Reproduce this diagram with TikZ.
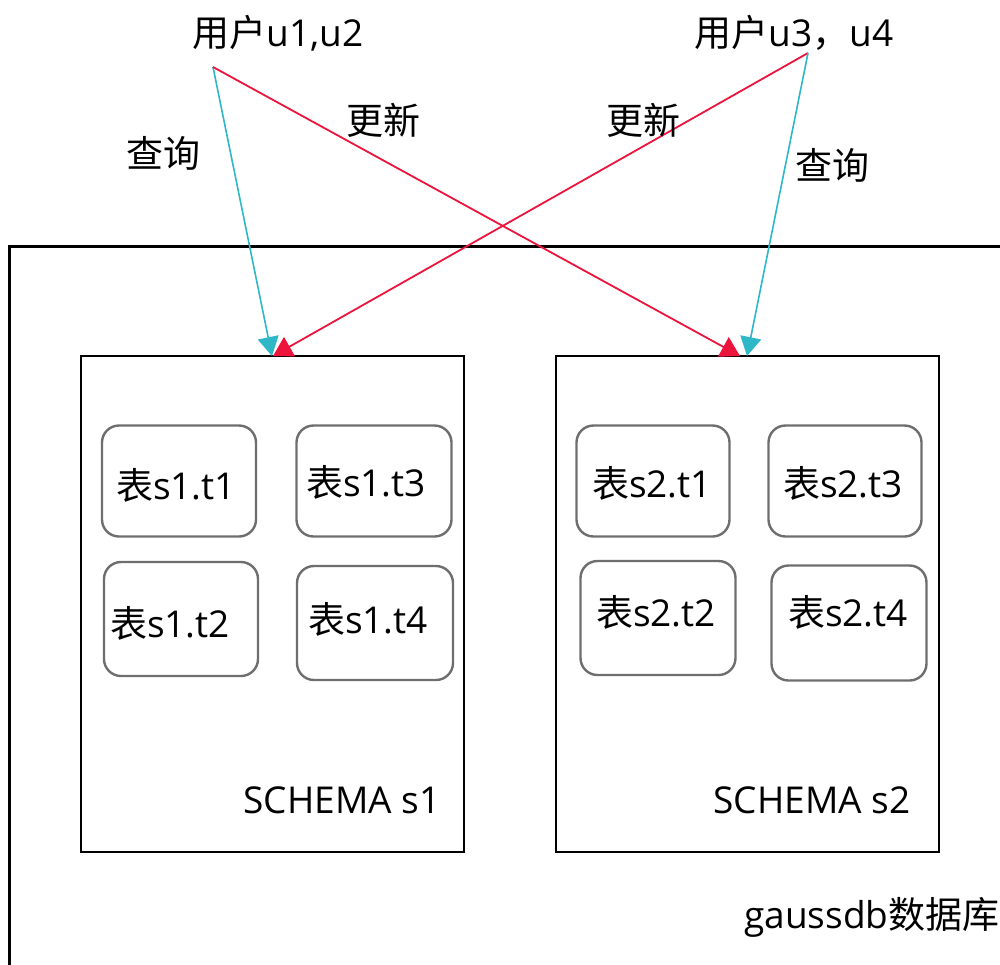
\documentclass[tikz,border=0pt]{standalone}
\usepackage{fontspec}
\setmainfont{Open Sans}
\newfontfamily\cjk{Noto Sans CJK SC}
\usetikzlibrary{arrows.meta}
\definecolor{qcyan}{RGB}{46,183,199}
\definecolor{ured}{RGB}{236,20,60}
\definecolor{tgray}{RGB}{110,110,110}
\tikzset{
  lbl/.style={inner sep=0pt, font=\fontsize{37}{44}\selectfont},
  tbl/.style={draw=tgray, line width=2.4pt, rounded corners=17pt, inner sep=0pt},
  schemabox/.style={draw=black, line width=2.4pt, inner sep=0pt},
  qarrow/.style={draw=qcyan, line width=1.6pt, -{Triangle[length=19pt,width=21pt]}},
  uarrow/.style={draw=ured, line width=1.8pt, -{Triangle[length=19pt,width=22pt]}},
}
\begin{document}
\begin{tikzpicture}[x=1pt,y=-1pt]
\useasboundingbox (0,0) rectangle (1000,964);
\clip (0,0) rectangle (1000,964);
% outer database box
\node[draw=black, line width=2.8pt, inner sep=0pt, minimum width=1020pt, minimum height=740pt, anchor=north west] (db) at (8,245) {};
\node[lbl] (dblbl) at (872,917) {gaussdb{\cjk 数据库}};
% schema boxes
\node[schemabox, minimum width=383pt, minimum height=496pt, anchor=north west] (s1) at (80,355) {};
\node[schemabox, minimum width=383pt, minimum height=496pt, anchor=north west] (s2) at (555,355) {};
\node[lbl] (s1lbl) at (342,800) {SCHEMA s1};
\node[lbl] (s2lbl) at (812,800) {SCHEMA s2};
% tables schema s1
\node[tbl, minimum width=154pt, minimum height=111pt] (t11) at (179,481) {};
\node[lbl] (t11l) at (176,485) {{\cjk 表}s1.t1};
\node[tbl, minimum width=155pt, minimum height=111pt] (t13) at (374,481) {};
\node[lbl] (t13l) at (366,482) {{\cjk 表}s1.t3};
\node[tbl, minimum width=154pt, minimum height=114pt] (t12) at (181,619) {};
\node[lbl] (t12l) at (170,623) {{\cjk 表}s1.t2};
\node[tbl, minimum width=156pt, minimum height=114pt] (t14) at (375,623) {};
\node[lbl] (t14l) at (368,619) {{\cjk 表}s1.t4};
% tables schema s2
\node[tbl, minimum width=153pt, minimum height=111pt] (t21) at (653,481) {};
\node[lbl] (t21l) at (652,483) {{\cjk 表}s2.t1};
\node[tbl, minimum width=153pt, minimum height=111pt] (t23) at (845,481) {};
\node[lbl] (t23l) at (843,483) {{\cjk 表}s2.t3};
\node[tbl, minimum width=155pt, minimum height=114pt] (t22) at (658,618) {};
\node[lbl] (t22l) at (656,612) {{\cjk 表}s2.t2};
\node[tbl, minimum width=155pt, minimum height=115pt] (t24) at (849,623) {};
\node[lbl] (t24l) at (848,612) {{\cjk 表}s2.t4};
% users
\node[lbl] (u12) at (278,33) {{\cjk 用户}u1,u2};
\node[lbl] (u34) at (794,33) {{\cjk 用户}u3{\cjk ，}u4};
\coordinate (u12o) at (213,67);
\coordinate (u34o) at (808,53);
\coordinate (s1q) at (272,356);
\coordinate (s1u) at (273,356);
\coordinate (s2u) at (740,356);
\coordinate (s2q) at (747,356);
% connectors
\draw[qarrow] (u12o) -- (s1q);
\draw[uarrow] (u34o) -- (s1u);
\draw[uarrow] (u12o) -- (s2u);
\draw[qarrow] (u34o) -- (s2q);
% connector labels
\node[lbl] (q1) at (163,153) {\cjk 查询};
\node[lbl] (g1) at (383,120) {\cjk 更新};
\node[lbl] (g2) at (643,120) {\cjk 更新};
\node[lbl] (q2) at (832,165) {\cjk 查询};
\end{tikzpicture}
\end{document}
